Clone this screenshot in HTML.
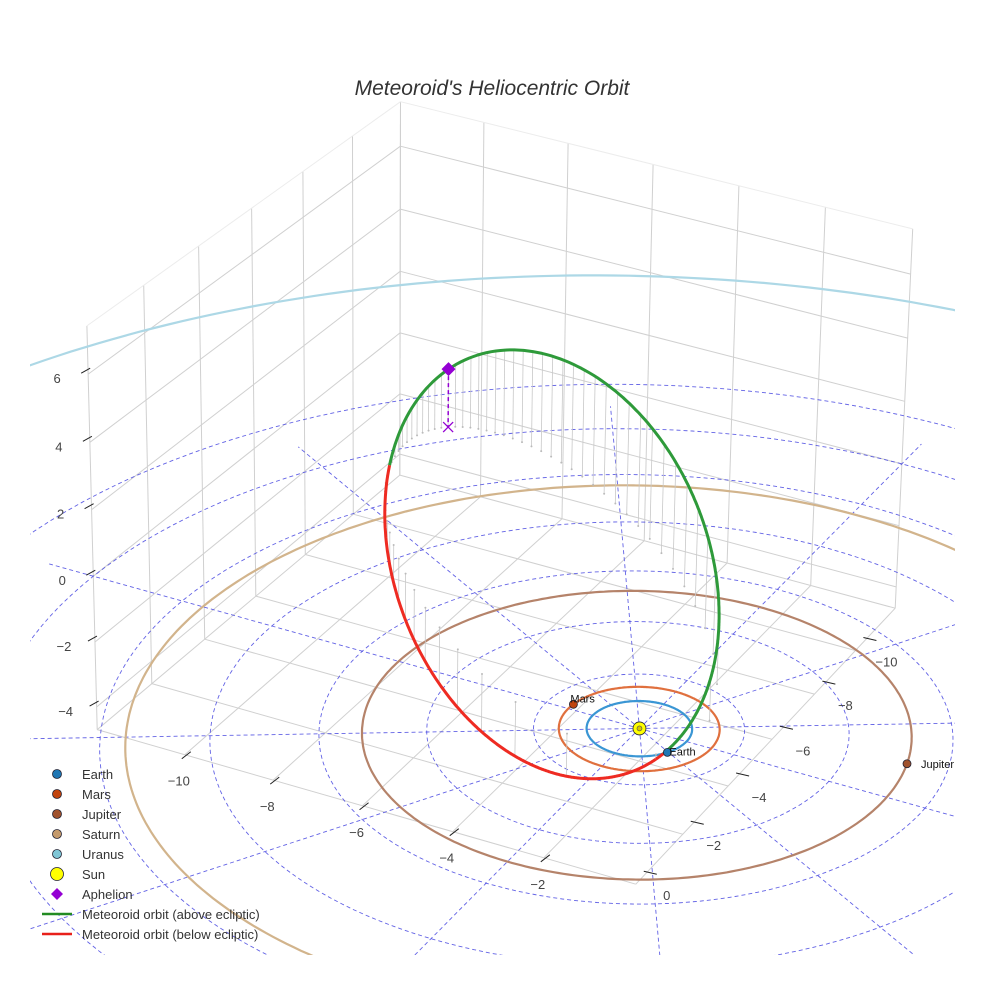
<!DOCTYPE html>
<html><head><meta charset="utf-8"><style>
html,body{margin:0;padding:0;background:#fff;width:984px;height:984px;overflow:hidden;}
svg{display:block;font-family:"Liberation Sans",Arial,sans-serif;overflow:hidden;}
</style></head><body>
<svg id="chart" width="984" height="984" viewBox="0 0 984 984" xmlns="http://www.w3.org/2000/svg">
<defs><clipPath id="plotclip"><rect x="30" y="30" width="925" height="925"/></clipPath></defs>
<rect width="984" height="984" fill="#fff"/>
<text x="492" y="95" text-anchor="middle" font-size="21" font-style="italic" fill="#333">Meteoroid's Heliocentric Orbit</text>
<g id="scene" clip-path="url(#plotclip)"></g>
<g id="axes"></g>
<g id="legend" font-size="13" fill="#333">
  <g><circle cx="57" cy="774" r="4.5" fill="#1f77b4" stroke="#223" stroke-width="0.8"/><text x="82" y="779">Earth</text></g>
  <g><circle cx="57" cy="794" r="4.5" fill="#c1440e" stroke="#223" stroke-width="0.8"/><text x="82" y="799">Mars</text></g>
  <g><circle cx="57" cy="814" r="4.5" fill="#a0522d" stroke="#223" stroke-width="0.8"/><text x="82" y="819">Jupiter</text></g>
  <g><circle cx="57" cy="834" r="4.5" fill="#c49a6c" stroke="#223" stroke-width="0.8"/><text x="82" y="839">Saturn</text></g>
  <g><circle cx="57" cy="854" r="4.5" fill="#7fc6d6" stroke="#223" stroke-width="0.8"/><text x="82" y="859">Uranus</text></g>
  <g><circle cx="57" cy="874" r="6.5" fill="#ffff00" stroke="#223" stroke-width="0.8"/><text x="82" y="879">Sun</text></g>
  <g><path d="M57 888 L63 894 L57 900 L51 894 Z" fill="#9400d3"/><text x="82" y="899">Aphelion</text></g>
  <g><line x1="42" y1="914" x2="72" y2="914" stroke="#228b22" stroke-width="2.5"/><text x="82" y="919">Meteoroid orbit (above ecliptic)</text></g>
  <g><line x1="42" y1="934" x2="72" y2="934" stroke="#e8201a" stroke-width="2.5"/><text x="82" y="939">Meteoroid orbit (below ecliptic)</text></g>
</g>
</svg>
<script>
// ---- data ----
const gridRadii = [2, 4, 6, 8, 10, 12, 14];
const gridAngles = [0, 30, 60, 90, 120, 150, 180, 210, 240, 270, 300, 330];
const planetNames = ['Earth', 'Mars', 'Jupiter', 'Saturn', 'Uranus'];
const planetRadii = [1.0, 1.524, 5.203, 9.537, 19.19];
const planetAngles = [31, 187, 346, 60, 80];
const planetShowDot = [true, true, true, false, false];
const metPerihelion = [0.986];
const metEccentricity = [0.856];
const metInclination = [44];
const metNode = [215.5];
const metArgPeri = [192];
const xTicks = [-10, -8, -6, -4, -2];
const yTicks = [-10, -8, -6, -4, -2, 0];
const zTicks = [-4, -2, 0, 2, 4, 6];

// ---- styles (not data) ----
const orbitColors = ['#3a96d4', '#e0703e', '#b5836a', '#d2b48c', '#add8e6'];
const dotColors = ['#1f77b4', '#c1440e', '#a0522d', '#c49a6c', '#7fc6d6'];
const XMIN = -12, XMAX = 0, YMIN = -12, YMAX = 0, ZMIN = -4.7, ZMAX = 7.4;

// ---- camera fit (layout of the 3D box) ----
const fitPts = [
  [XMIN, YMAX, ZMIN, 100, 728, 1], [XMAX, YMAX, ZMIN, 619, 895, 1], [XMAX, YMIN, ZMIN, 895, 612, 1],
  [XMIN, YMIN, ZMIN, 402, 472, 1], [XMIN, YMAX, ZMAX, 82, 333, 1], [XMAX, YMIN, ZMAX, 911, 230, 1],
  [XMIN, YMIN, ZMAX, 400, 100, 1], [0, 0, 0, 640, 728, 6]
];
function solveCam() {
  const A = [], b = [];
  fitPts.forEach(([X, Y, Z, u, v, wt]) => {
    A.push([X, Y, Z, 1, 0, 0, 0, 0, -u * X, -u * Y, -u * Z].map(t => t * wt)); b.push(u * wt);
    A.push([0, 0, 0, 0, X, Y, Z, 1, -v * X, -v * Y, -v * Z].map(t => t * wt)); b.push(v * wt);
  });
  const n = 11, M = [];
  for (let i = 0; i < n; i++) {
    M.push(new Array(n + 1).fill(0));
    for (let j = 0; j < n; j++) { let s = 0; for (let k = 0; k < A.length; k++) s += A[k][i] * A[k][j]; M[i][j] = s; }
    let s = 0; for (let k = 0; k < A.length; k++) s += A[k][i] * b[k]; M[i][n] = s;
  }
  for (let c = 0; c < n; c++) {
    let p = c; for (let r = c + 1; r < n; r++) if (Math.abs(M[r][c]) > Math.abs(M[p][c])) p = r;
    [M[c], M[p]] = [M[p], M[c]];
    for (let r = 0; r < n; r++) { if (r === c) continue; const f = M[r][c] / M[c][c]; for (let k = c; k <= n; k++) M[r][k] -= f * M[c][k]; }
  }
  return M.map((row, i) => row[n] / row[i]);
}
const P = solveCam();
function proj(X, Y, Z) {
  const w = P[8] * X + P[9] * Y + P[10] * Z + 1;
  if (w <= 0.05) return null;
  return [(P[0] * X + P[1] * Y + P[2] * Z + P[3]) / w, (P[4] * X + P[5] * Y + P[6] * Z + P[7]) / w];
}
const NS = 'http://www.w3.org/2000/svg';
const scene = document.getElementById('scene');
const axes = document.getElementById('axes');
function mk(tag, attrs, parent) {
  const el = document.createElementNS(NS, tag);
  for (const k in attrs) el.setAttribute(k, attrs[k]);
  (parent || scene).appendChild(el);
  return el;
}
function pathFrom(pts3) {
  let d = '', pen = false;
  pts3.forEach(p => {
    const s = proj(p[0], p[1], p[2]);
    if (!s) { pen = false; return; }
    d += (pen ? 'L' : 'M') + s[0].toFixed(1) + ' ' + s[1].toFixed(1);
    pen = true;
  });
  return d;
}
function seg(a, b, stroke, w, name) {
  const el = mk('path', { d: pathFrom([a, b]), stroke: stroke, 'stroke-width': w, fill: 'none' });
  
  
  return el;
}

// ---- box grid ----
const gridC = '#d0d0d0', edgeC = '#ececec';
for (let y = -12; y <= 0; y += 2) seg([XMIN, y, ZMIN], [XMIN, y, ZMAX], gridC, 1, 'left-wall-gridline');
for (let x = -12; x <= 0; x += 2) seg([x, YMIN, ZMIN], [x, YMIN, ZMAX], gridC, 1, 'back-wall-gridline');
zTicks.forEach(z => {
  seg([XMIN, YMAX, z], [XMIN, YMIN, z], gridC, 1, 'left-wall-z-gridline');
  seg([XMIN, YMIN, z], [XMAX, YMIN, z], gridC, 1, 'back-wall-z-gridline');
});
for (let x = -12; x <= 0; x += 2) seg([x, YMIN, ZMIN], [x, YMAX, ZMIN], gridC, 1, 'floor-gridline');
for (let y = -12; y <= 0; y += 2) seg([XMIN, y, ZMIN], [XMAX, y, ZMIN], gridC, 1, 'floor-gridline');
seg([XMIN, YMAX, ZMAX], [XMIN, YMIN, ZMAX], edgeC, 1, 'box-edge');
seg([XMIN, YMIN, ZMAX], [XMAX, YMIN, ZMAX], edgeC, 1, 'box-edge');

// ---- ecliptic polar grid ----
const dashC = 'rgba(70,70,225,0.85)';
gridRadii.forEach(r => {
  const pts = [];
  for (let t = 0; t <= 360; t += 2) pts.push([r * Math.cos(t * Math.PI / 180), r * Math.sin(t * Math.PI / 180), 0]);
  const el = mk('path', { d: pathFrom(pts), stroke: dashC, 'stroke-width': 0.9, fill: 'none', 'stroke-dasharray': '4 3' });
  
  
});
const Rmax = 13;
gridAngles.forEach(a => {
  const pts = [];
  for (let r = 0; r <= Rmax; r += 0.5) pts.push([r * Math.cos(a * Math.PI / 180), r * Math.sin(a * Math.PI / 180), 0]);
  const el = mk('path', { d: pathFrom(pts), stroke: dashC, 'stroke-width': 0.9, fill: 'none', 'stroke-dasharray': '4 3' });
  
  
});

// ---- planet orbits ----
planetRadii.forEach((r, i) => {
  const pts = [];
  for (let t = 0; t <= 360; t += 1) pts.push([r * Math.cos(t * Math.PI / 180), r * Math.sin(t * Math.PI / 180), 0]);
  const el = mk('path', { d: pathFrom(pts), stroke: orbitColors[i], 'stroke-width': 2.2, fill: 'none' });
  
  
});

// ---- meteoroid orbit ----
const q = metPerihelion[0], e = metEccentricity[0], inc = metInclination[0] * Math.PI / 180;
const Om = metNode[0] * Math.PI / 180, w = metArgPeri[0] * Math.PI / 180;
const pSemi = q * (1 + e);
function metPos(nu) {
  const r = pSemi / (1 + e * Math.cos(nu)), u = nu + w;
  return [r * (Math.cos(Om) * Math.cos(u) - Math.sin(Om) * Math.sin(u) * Math.cos(inc)),
          r * (Math.sin(Om) * Math.cos(u) + Math.cos(Om) * Math.sin(u) * Math.cos(inc)),
          r * Math.sin(u) * Math.sin(inc)];
}
for (let k = 0; k < 60; k++) {
  const M = 2 * Math.PI * k / 60;
  let E = M; for (let it = 0; it < 50; it++) E = E - (E - e * Math.sin(E) - M) / (1 - e * Math.cos(E));
  const nu = 2 * Math.atan2(Math.sqrt(1 + e) * Math.sin(E / 2), Math.sqrt(1 - e) * Math.cos(E / 2));
  const p3 = metPos(nu);
  const el = mk('path', { d: pathFrom([p3, [p3[0], p3[1], 0]]), stroke: '#c8c8c8', 'stroke-width': 0.8, fill: 'none' });
  
  
  const s = proj(p3[0], p3[1], 0);
  if (s) {
    const d = mk('circle', { cx: s[0], cy: s[1], r: 1, fill: '#bbb' });
    
    
  }
}
let cur = [], curAbove = null;
function flush() {
  if (cur.length > 1) {
    const el = mk('path', { d: pathFrom(cur), stroke: curAbove ? '#2e9a3a' : '#ee2b22', 'stroke-width': 3, fill: 'none', 'stroke-linejoin': 'round' });
    
    
  }
}
for (let d = 0; d <= 360; d += 0.5) {
  const p3 = metPos(d * Math.PI / 180), above = p3[2] >= 0;
  if (curAbove === null) curAbove = above;
  if (above !== curAbove) { cur.push(p3); flush(); cur = [p3]; curAbove = above; }
  else cur.push(p3);
}
flush();

// aphelion
const aph = metPos(Math.PI);
const aphLine = mk('path', { d: pathFrom([aph, [aph[0], aph[1], 0]]), stroke: '#9400d3', 'stroke-width': 1.5, 'stroke-dasharray': '4 3', fill: 'none' });


const aS = proj(aph[0], aph[1], aph[2]), aG = proj(aph[0], aph[1], 0);
const aphX = mk('path', { d: `M${aG[0] - 5} ${aG[1] - 5}L${aG[0] + 5} ${aG[1] + 5}M${aG[0] + 5} ${aG[1] - 5}L${aG[0] - 5} ${aG[1] + 5}`, stroke: '#9400d3', 'stroke-width': 1.3 });


const aphM = mk('path', { d: `M${aS[0]} ${aS[1] - 7}L${aS[0] + 7} ${aS[1]}L${aS[0]} ${aS[1] + 7}L${aS[0] - 7} ${aS[1]}Z`, fill: '#9400d3' });



// planets
planetNames.forEach((nm, i) => {
  if (!planetShowDot[i]) return;
  const t = planetAngles[i] * Math.PI / 180, r = planetRadii[i];
  const s = proj(r * Math.cos(t), r * Math.sin(t), 0);
  if (!s) return;
  const c = mk('circle', { cx: s[0], cy: s[1], r: 4, fill: dotColors[i], stroke: '#223', 'stroke-width': 0.8 });
  
  
  const dx = nm === 'Jupiter' ? 14 : (nm === 'Mars' ? -3 : 2);
  const tx = mk('text', { x: s[0] + dx, y: s[1] + (nm === 'Jupiter' ? 4 : (nm === 'Mars' ? -2 : 3)), 'font-size': 11, fill: '#111' }, axes);
  tx.textContent = nm;
  
  
});
// sun
const sS = proj(0, 0, 0);
const sun = mk('circle', { cx: sS[0], cy: sS[1], r: 6.5, fill: '#ffff00', stroke: '#223', 'stroke-width': 0.8 });


const sunIn = mk('circle', { cx: sS[0], cy: sS[1], r: 2.5, fill: '#d8c800', stroke: '#446', 'stroke-width': 0.6 });



// ---- axis ticks ----
function fmt(v) { return v < 0 ? '\u2212' + Math.abs(v) : String(v); }
function tick(p, t1, t2, lp, label, anchor, name) {
  const l = mk('line', { x1: p[0] + t1[0], y1: p[1] + t1[1], x2: p[0] + t2[0], y2: p[1] + t2[1], stroke: '#222', 'stroke-width': 1 }, axes);
  
  
  const t = mk('text', { x: p[0] + lp[0], y: p[1] + lp[1], 'text-anchor': anchor, 'font-size': 13, fill: '#444' }, axes);
  t.textContent = label;
  
  
}
xTicks.forEach(v => tick(proj(v, YMAX, ZMIN), [-3, 4], [6, -3], [-6, 31], fmt(v), 'middle', 'x-axis'));
yTicks.forEach(v => tick(proj(XMAX, v, ZMIN), [8, -13], [21, -10], [31, 16], fmt(v), 'middle', 'y-axis'));
zTicks.forEach(v => tick(proj(XMIN, YMAX, v), [-7, -1], [2, -6], [-31, 9], fmt(v), 'middle', 'z-axis'));
</script>
</body></html>
